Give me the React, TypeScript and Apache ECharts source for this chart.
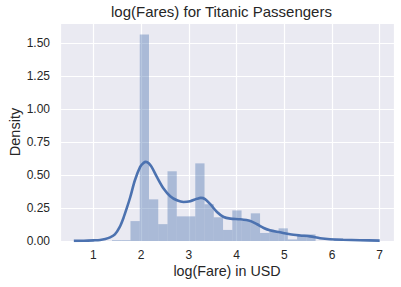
import React, { useEffect, useRef } from "react";
import * as echarts from "echarts";

// Histogram bin edges (log fare) and density heights
const binEdges = [1.389, 1.583, 1.777, 1.971, 2.165, 2.359, 2.553, 2.747, 2.941, 3.135, 3.329, 3.523, 3.717, 3.911, 4.105, 4.299, 4.493, 4.687, 4.881, 5.075, 5.269, 5.463, 5.657, 5.851, 6.045, 6.239];
const binDensity = [0.006, 0.006, 0.151, 1.566, 0.316, 0.128, 0.529, 0.187, 0.187, 0.589, 0.279, 0.18, 0.084, 0.232, 0.152, 0.21, 0.061, 0.076, 0.096, 0.012, 0.05, 0.05, 0, 0, 0.018];

// KDE curve samples
const kdeX = [0.59, 0.8, 1.0, 1.14, 1.25, 1.35, 1.45, 1.55, 1.63, 1.7, 1.77, 1.87, 1.98, 2.05, 2.1, 2.16, 2.22, 2.33, 2.47, 2.61, 2.75, 2.89, 3.03, 3.17, 3.25, 3.34, 3.45, 3.59, 3.73, 3.87, 4.08, 4.29, 4.43, 4.57, 4.7, 4.91, 5.12, 5.33, 5.54, 5.75, 5.96, 6.23, 6.59, 7.0];
const kdeY = [0.001, 0.002, 0.005, 0.008, 0.015, 0.027, 0.05, 0.105, 0.175, 0.25, 0.33, 0.461, 0.562, 0.592, 0.6, 0.59, 0.562, 0.486, 0.398, 0.34, 0.309, 0.296, 0.302, 0.32, 0.327, 0.318, 0.279, 0.22, 0.182, 0.17, 0.165, 0.152, 0.127, 0.099, 0.081, 0.066, 0.051, 0.042, 0.035, 0.021, 0.013, 0.009, 0.006, 0.003];

const titleText = "log(Fares) for Titanic Passengers";
const xLabel = "log(Fare) in USD";
const yLabel = "Density";

const FONT = "'Liberation Sans', Arial, sans-serif";
const TXT = "#262626";
const BLUE = "#4C72B0";

export default function App() {
  const ref = useRef<HTMLDivElement>(null);
  useEffect(() => {
    if (!ref.current) return;
    const chart = echarts.init(ref.current, undefined, { renderer: "svg" });
    chart.setOption({
      animation: false,
      textStyle: { fontFamily: FONT },
      title: {
        text: titleText,
        left: 111,
        top: 4,
        padding: 0,
        textStyle: { fontFamily: FONT, fontSize: 15, fontWeight: "normal", color: TXT },
      },
      grid: {
        left: 60,
        right: 7,
        top: 23,
        bottom: 46,
        show: true,
        backgroundColor: "#EAEAF2",
        borderWidth: 0,
        containLabel: false,
        outerBoundsMode: "none",
      },
      xAxis: {
        type: "value",
        min: 0.3,
        max: 7.3,
        splitNumber: 7,
        name: xLabel,
        nameLocation: "middle",
        nameGap: 23,
        nameMoveOverlap: false,
        nameTextStyle: { fontFamily: FONT, fontSize: 14.3, color: TXT },
        axisLine: { show: false },
        axisTick: { show: false },
        axisLabel: {
          fontFamily: FONT,
          fontSize: 12,
          color: TXT,
          margin: 8,
          showMinLabel: false,
          showMaxLabel: false,
          formatter: (v: number) => (Math.abs(v - Math.round(v)) < 1e-6 ? String(Math.round(v)) : ""),
        },
        splitLine: { show: true, lineStyle: { color: "#ffffff", width: 1.2 } },
      },
      yAxis: {
        type: "value",
        min: 0,
        max: 1.654,
        interval: 0.25,
        name: yLabel,
        nameLocation: "middle",
        nameGap: 38,
        nameMoveOverlap: false,
        nameTextStyle: { fontFamily: FONT, fontSize: 14.5, color: TXT },
        axisLine: { show: false },
        axisTick: { show: false },
        axisLabel: {
          fontFamily: FONT,
          fontSize: 12,
          color: TXT,
          margin: 10,
          showMaxLabel: false,
          formatter: (v: number) => v.toFixed(2),
        },
        splitLine: { show: true, lineStyle: { color: "#ffffff", width: 1.2 } },
      },
      series: [
        {
          type: "custom",
          data: binDensity.map((d, i) => [binEdges[i], binEdges[i + 1], d]),
          encode: { x: [0, 1], y: 2 },
          z: 2,
          renderItem: (_params: any, api: any) => {
            const x0 = api.value(0);
            const x1 = api.value(1);
            const h = api.value(2);
            const p0 = api.coord([x0, h]);
            const p1 = api.coord([x1, 0]);
            return {
              type: "rect",
              shape: { x: p0[0], y: p0[1], width: p1[0] - p0[0], height: p1[1] - p0[1] },
              style: { fill: "rgba(76,114,176,0.4)" },
            };
          },
        },
        {
          type: "line",
          data: kdeX.map((x, i) => [x, kdeY[i]]),
          showSymbol: false,
          symbol: "none",
          smooth: 0.3,
          z: 3,
          lineStyle: { color: BLUE, width: 2.6 },
          itemStyle: { color: BLUE },
        },
      ],
    });
    return () => chart.dispose();
  }, []);
  return (
    <div
      ref={ref}
      style={{ position: "fixed", left: 0, top: 0, width: 401, height: 287, background: "#ffffff" }}
    />
  );
}
